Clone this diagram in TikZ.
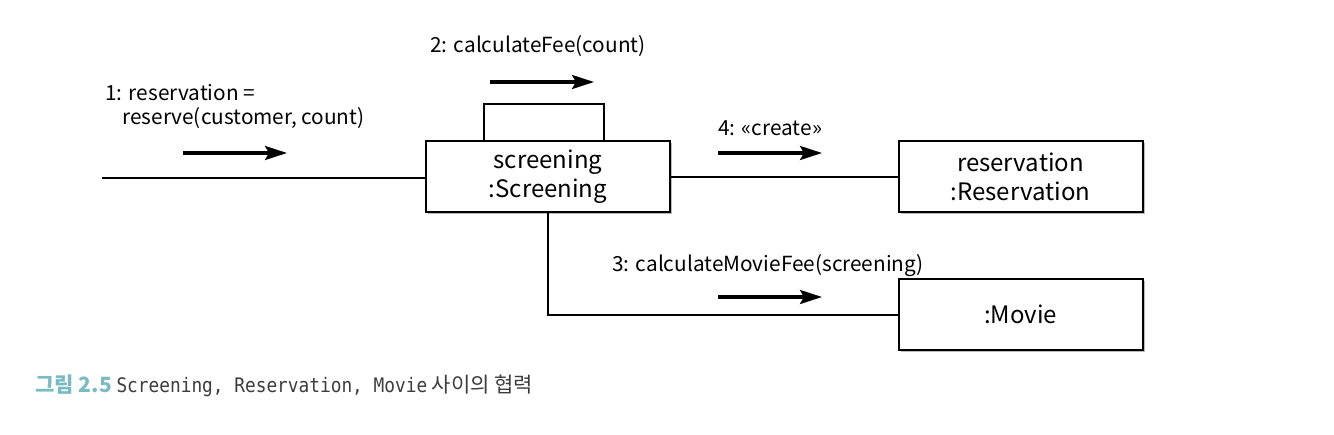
\documentclass[tikz,border=0pt]{standalone}
\usepackage{fontspec}
\setmainfont{Noto Sans CJK KR}
\newfontfamily\capmono[FakeStretch=0.89]{DejaVu Sans Mono}
\usepackage{xcolor}
\definecolor{figteal}{RGB}{120,188,194}
\definecolor{capgray}{RGB}{60,60,60}
\usetikzlibrary{arrows.meta,shadows}

\begin{document}
\begin{tikzpicture}[x=0.5pt,y=-0.5pt,
  obj/.style={draw,line width=1pt,fill=white,minimum width=122pt,minimum height=35.5pt,
    align=center,font=\fontsize{12}{14.5}\selectfont,
    drop shadow={shadow xshift=1.2pt,shadow yshift=-1.2pt,opacity=0.45,fill=black!60}},
  link/.style={line width=1pt},
  msg/.style={line width=1.6pt,-{Stealth[length=11pt,width=7pt,inset=2pt]}},
  lbl/.style={anchor=base west,inner sep=0pt,font=\fontsize{10.4}{12}\selectfont}]
  \useasboundingbox (0,0) rectangle (1334,434);

  % objects
  \node[obj] (scr) at (548,176.5) {screening\\:Screening};
  \node[obj] (res) at (1020.5,176.5) {reservation\\:Reservation};
  \node[obj] (mov) at (1020.5,314.5) {:Movie};

  % links
  \coordinate (start) at (102,178);
  \draw[link] (start) -- (start -| scr.west);
  \draw[link] (scr.east) -- (res.west);
  \draw[link] (scr.south) |- (mov.west);
  \draw[link] ([xshift=-32pt]scr.north) -- ++(0,-36) -| ([xshift=28pt]scr.north);

  % messages
  \node[lbl] (m1a) at (105,100) {1: reservation =};
  \node[lbl] (m1b) at (122,124) {reserve(customer, count)};
  \draw[msg] (183,153) coordinate (m1s) -- (287,153) coordinate (m1e);

  \node[lbl] (m2) at (430,52) {2: calculateFee(count)};
  \draw[msg] (490,82) coordinate (m2s) -- (594,82) coordinate (m2e);

  \node[lbl] (m4) at (718,135) {4: «create»};
  \draw[msg] (718,153) coordinate (m4s) -- (822,153) coordinate (m4e);

  \node[lbl] (m3) at (612,271) {3: calculateMovieFee(screening)};
  \draw[msg] (718,297) coordinate (m3s) -- (822,297) coordinate (m3e);

  % caption
  \node[anchor=base west,inner sep=0pt,font=\fontsize{10.5}{12}\selectfont,text=capgray] (cap) at (35,392)
    {{\color{figteal}\bfseries 그림 2.5} {\capmono\fontsize{10}{12}\selectfont Screening, Reservation, Movie} 사이의 협력};
\end{tikzpicture}
\end{document}
